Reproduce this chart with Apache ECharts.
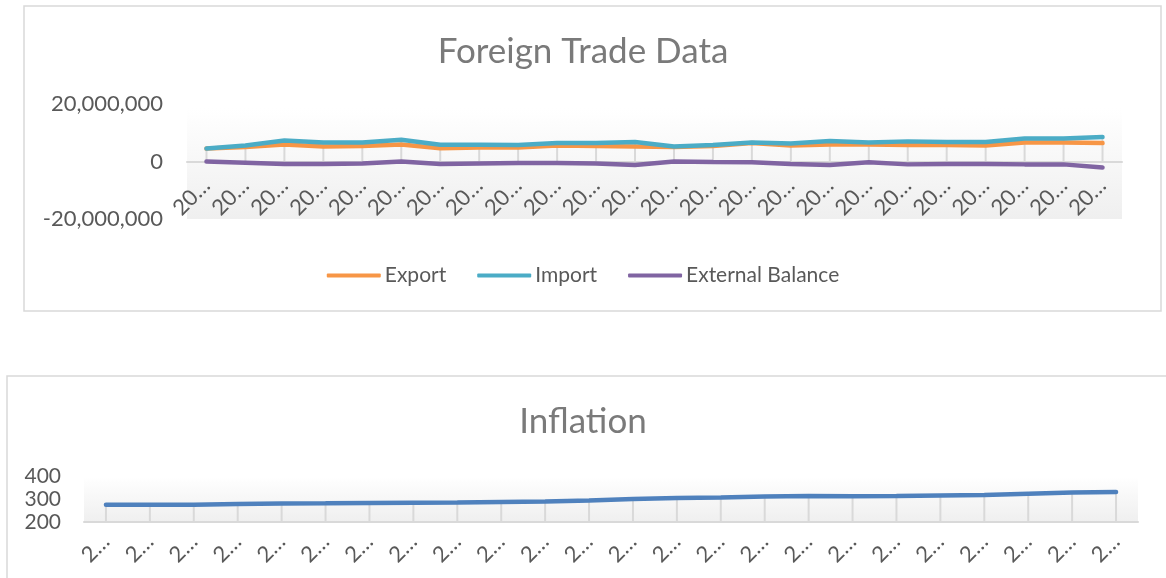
<!DOCTYPE html>
<html>
<head>
<meta charset="utf-8">
<title>Foreign Trade Data / Inflation</title>
<script src="https://cdn.jsdelivr.net/npm/echarts@6/dist/echarts.min.js"></script>
<style>
  html, body { margin: 0; padding: 0; background: #fff; }
  #main { width: 1166px; height: 578px; }
</style>
</head>
<body>
<div id="main"></div>
<script>
// categories (years, shown truncated like the original workbook)
var years = ['2000', '2001', '2002', '2003', '2004', '2005', '2006', '2007',
  '2008', '2009', '2010', '2011', '2012', '2013', '2014', '2015',
  '2016', '2017', '2018', '2019', '2020', '2021', '2022', '2023'];

// foreign trade
var exportVals = [4500000, 5000000, 5900000, 5200000, 5400000, 5900000, 4600000, 4900000,
  4900000, 5600000, 5400000, 5200000, 5000000, 5400000, 6400000, 5600000,
  5900000, 5900000, 5700000, 5700000, 5600000, 6600000, 6600000, 6400000];
var importVals = [4500000, 5600000, 7300000, 6600000, 6600000, 7600000, 5800000, 5800000,
  5700000, 6400000, 6400000, 6800000, 5200000, 5700000, 6600000, 6300000,
  7100000, 6600000, 7000000, 6800000, 6800000, 8000000, 8000000, 8500000];
var balanceVals = [0, -400000, -900000, -900000, -700000, 0, -900000, -700000,
  -500000, -500000, -700000, -1200000, 0, -200000, -300000, -900000,
  -1200000, -300000, -1000000, -900000, -900000, -1000000, -1000000, -2100000];

// inflation index
var inflationVals = [275, 275, 275, 278, 280, 281, 283, 284, 285, 287, 289, 293,
  300, 304, 307, 311, 313, 312, 313, 315, 317, 323, 328, 330];

var tradeTicks = { min: -20000000, max: 20000000, interval: 20000000 };
var inflTicks = { min: 200, max: 400, interval: 100 };

// drop lines go from the axis up to the highest point of each category
var tradeDrop = exportVals.map(function (v, i) {
  return Math.max(v, importVals[i], balanceVals[i]);
});

var font = 'Lato';
var txt = '#595959';

function fade(startAt) {
  return new echarts.graphic.LinearGradient(0, 0, 0, 1, [
    { offset: 0, color: 'rgba(255,255,255,0)' },
    { offset: startAt, color: '#fdfdfd' },
    { offset: 1, color: '#efefef' }
  ]);
}

var chart = echarts.init(document.getElementById('main'));
chart.setOption({
  backgroundColor: '#fff',
  animation: false,
  textStyle: { fontFamily: font },
  title: [
    {
      text: 'Foreign Trade Data', left: 'center', top: 29,
      textStyle: { fontFamily: font, fontSize: 35, fontWeight: 'normal', color: '#7a7a7a' }
    },
    {
      text: 'Inflation', left: 'center', top: 399,
      textStyle: { fontFamily: font, fontSize: 35, fontWeight: 'normal', color: '#7a7a7a' }
    }
  ],
  graphic: [
    { type: 'rect', shape: { x: 24, y: 6, width: 1137, height: 305 },
      style: { fill: 'none', stroke: '#d9d9d9', lineWidth: 1.5 }, z: -1 },
    { type: 'rect', shape: { x: 7, y: 376, width: 1170, height: 220 },
      style: { fill: 'none', stroke: '#d9d9d9', lineWidth: 1.5 }, z: -1 }
  ],
  legend: {
    data: ['Export', 'Import', 'External Balance'],
    left: 'center', top: 260,
    icon: 'roundRect', itemWidth: 54, itemHeight: 4, itemGap: 31,
    textStyle: { fontFamily: font, fontSize: 21, color: txt, padding: [0, 0, 0, -1] }
  },
  grid: [
    { left: 187, right: 44, top: 104, height: 115, show: true, borderWidth: 0,
      backgroundColor: fade(0.15) },
    { left: 84, right: 28, top: 476, height: 46, show: true, borderWidth: 0,
      backgroundColor: fade(0.13) }
  ],
  xAxis: [
    {
      type: 'category', gridIndex: 0, data: years,
      axisLine: { onZero: true, lineStyle: { color: '#d9d9d9', width: 2 } },
      axisTick: { show: false },
      axisLabel: { interval: 0, rotate: 45, fontSize: 22, color: txt, margin: -37,
        formatter: function (v) { return v.slice(0, 2) + '\u2026'; } }
    },
    {
      type: 'category', gridIndex: 1, data: years,
      axisLine: { lineStyle: { color: '#d9d9d9', width: 2 } },
      axisTick: { show: false },
      axisLabel: { interval: 0, rotate: 45, fontSize: 22, color: txt, margin: 16,
        formatter: function (v) { return v.slice(0, 1) + '\u2026'; } }
    }
  ],
  yAxis: [
    {
      type: 'value', gridIndex: 0,
      min: tradeTicks.min, max: tradeTicks.max, interval: tradeTicks.interval,
      axisLine: { show: false }, axisTick: { show: false }, splitLine: { show: false },
      axisLabel: { fontSize: 22, color: txt, margin: 24,
        formatter: function (v) { return v.toLocaleString('en-US'); } }
    },
    {
      type: 'value', gridIndex: 1,
      min: inflTicks.min, max: inflTicks.max, interval: inflTicks.interval,
      axisLine: { show: false }, axisTick: { show: false }, splitLine: { show: false },
      axisLabel: { fontSize: 21, color: txt, margin: 23 }
    }
  ],
  series: [
    { name: 'drop', type: 'bar', xAxisIndex: 0, yAxisIndex: 0, data: tradeDrop,
      barWidth: 2, itemStyle: { color: '#d9d9d9' }, z: 1, silent: true },
    { name: 'Export', type: 'line', xAxisIndex: 0, yAxisIndex: 0, data: exportVals,
      showSymbol: false, lineStyle: { width: 4.5, color: '#f79646', cap: 'round' },
      itemStyle: { color: '#f79646' }, z: 3 },
    { name: 'Import', type: 'line', xAxisIndex: 0, yAxisIndex: 0, data: importVals,
      showSymbol: false, lineStyle: { width: 4.5, color: '#4bacc6', cap: 'round' },
      itemStyle: { color: '#4bacc6' }, z: 4 },
    { name: 'External Balance', type: 'line', xAxisIndex: 0, yAxisIndex: 0, data: balanceVals,
      showSymbol: false, lineStyle: { width: 4.5, color: '#8064a2', cap: 'round' },
      itemStyle: { color: '#8064a2' }, z: 5 },
    { name: 'drop2', type: 'bar', xAxisIndex: 1, yAxisIndex: 1, data: inflationVals,
      barWidth: 2, itemStyle: { color: '#d9d9d9' }, z: 1, silent: true },
    { name: 'Inflation', type: 'line', xAxisIndex: 1, yAxisIndex: 1, data: inflationVals,
      showSymbol: false, lineStyle: { width: 4.5, color: '#4f81bd', cap: 'round' },
      itemStyle: { color: '#4f81bd' }, z: 3 }
  ]
});
</script>
</body>
</html>
